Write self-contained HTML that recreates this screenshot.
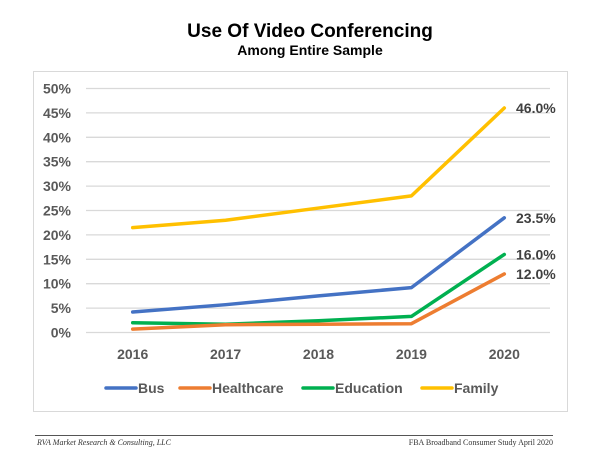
<!DOCTYPE html>
<html><head><meta charset="utf-8"><style>
body{margin:0;background:#fff;width:600px;height:450px;overflow:hidden;font-family:"Liberation Sans",sans-serif}
</style></head><body>
<svg width="600" height="450" xmlns="http://www.w3.org/2000/svg">
<text x="310" y="37" text-anchor="middle" font-size="19" font-weight="bold" fill="#000">Use Of Video Conferencing</text>
<text x="310" y="55" text-anchor="middle" font-size="14" font-weight="bold" fill="#000">Among Entire Sample</text>
<rect x="33.5" y="71.5" width="534" height="340" fill="#fff" stroke="#d9d9d9"/>
<g id="grid"></g><g id="ylab"></g><g id="xlab"></g><g id="lines"></g><g id="labels"></g><g id="legend"></g>
<line x1="35" y1="435.5" x2="553" y2="435.5" stroke="#555"/>
<text x="37" y="445" font-family="Liberation Serif" font-style="italic" font-size="8" fill="#333">RVA Market Research &amp; Consulting, LLC</text>
<text x="553" y="445" text-anchor="end" font-family="Liberation Serif" font-size="8" fill="#333">FBA Broadband Consumer Study  April 2020</text>
</svg>
<script>
const categories=["2016","2017","2018","2019","2020"];
const yTicks=[0,5,10,15,20,25,30,35,40,45,50];
const seriesNames=["Bus","Healthcare","Education","Family"];
const seriesColors=["#4472c4","#ed7d31","#00b050","#ffc000"];
const busValues=[4.2,5.7,7.5,9.2,23.5];
const healthcareValues=[0.7,1.6,1.7,1.8,12.0];
const educationValues=[2.0,1.7,2.4,3.3,16.0];
const familyValues=[21.5,23.0,25.5,28.0,46.0];
const endLabels=["23.5%","12.0%","16.0%","46.0%"];
const NS="http://www.w3.org/2000/svg";
const y=v=>332.5-v*(244/50);
const x=i=>132.7+i*92.9;
function mk(t,a,p){const e=document.createElementNS(NS,t);for(const k in a)e.setAttribute(k,a[k]);document.getElementById(p).appendChild(e);return e;}
yTicks.forEach(v=>{
 const g=mk("line",{x1:86,x2:550,y1:y(v),y2:y(v),stroke:"#d9d9d9","stroke-width":1.3},"grid");
 
 
 const t=mk("text",{x:71,y:y(v)+5,"text-anchor":"end","font-size":14,"font-weight":"bold",fill:"#595959"},"ylab");
 t.textContent=v+"%";
 
 
});
categories.forEach((c,i)=>{
 const t=mk("text",{x:x(i),y:359,"text-anchor":"middle","font-size":14,"font-weight":"bold",fill:"#595959"},"xlab");
 t.textContent=c;
 
 
});
const all=[busValues,healthcareValues,educationValues,familyValues];
[3,0,2,1].forEach(s=>{
 const vals=all[s];
 const p=mk("polyline",{points:vals.map((v,i)=>x(i)+","+y(v)).join(" "),fill:"none",stroke:seriesColors[s],"stroke-width":3.5,"stroke-linejoin":"round","stroke-linecap":"round"},"lines");
 
 
 const t=mk("text",{x:516,y:y(vals[4])+5,"font-size":14,"font-weight":"bold",fill:"#404040"},"labels");
 t.textContent=endLabels[s];
 
 
});
const lx=[106,180,303,422];
seriesNames.forEach((n,s)=>{
 const l=mk("line",{x1:lx[s],x2:lx[s]+30,y1:388,y2:388,stroke:seriesColors[s],"stroke-width":3.5,"stroke-linecap":"round"},"legend");
 
 
 const t=mk("text",{x:lx[s]+32,y:393,"font-size":14,"font-weight":"bold",fill:"#595959"},"legend");
 t.textContent=n;
 
 
});
</script>
</body></html>
